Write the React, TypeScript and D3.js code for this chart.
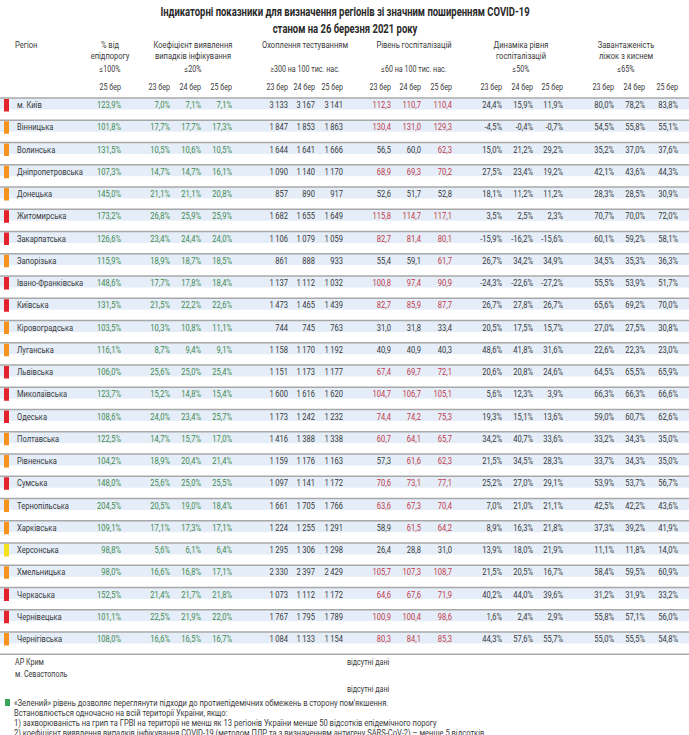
import React from "react";
import * as d3 from "d3";

const regions = ["м. Київ","Вінницька","Волинська","Дніпропетровська","Донецька","Житомирська","Закарпатська","Запорізька","Івано-Франківська","Київська","Кіровоградська","Луганська","Львівська","Миколаївська","Одеська","Полтавська","Рівненська","Сумська","Тернопільська","Харківська","Херсонська","Хмельницька","Черкаська","Чернівецька","Чернігівська"];
const status = ["red","orange","orange","orange","orange","red","red","orange","red","red","orange","orange","red","red","red","orange","orange","red","orange","orange","yellow","orange","red","red","orange"];
const epid25 = [123.9,101.8,131.5,107.3,145.0,173.2,126.6,115.9,148.6,131.5,103.5,116.1,106.0,123.7,108.6,122.5,104.2,148.0,204.5,109.1,98.8,98.0,152.5,101.1,108.0];
const coef23 = [7.0,17.7,10.5,14.7,21.1,26.8,23.4,18.9,17.7,21.5,10.3,8.7,25.6,15.2,24.0,14.7,18.9,25.6,20.5,17.1,5.6,16.6,21.4,22.5,16.6];
const coef24 = [7.1,17.7,10.6,14.7,21.1,25.9,24.4,18.7,17.8,22.2,10.8,9.4,25.0,14.8,23.4,15.7,20.4,25.0,19.0,17.3,6.1,16.8,21.7,21.9,16.5];
const coef25 = [7.1,17.3,10.5,16.1,20.8,25.9,24.0,18.5,18.4,22.6,11.1,9.1,25.4,15.4,25.7,17.0,21.4,25.5,18.4,17.1,6.4,17.1,21.8,22.0,16.7];
const test23 = [3133,1847,1644,1090,857,1682,1106,861,1137,1473,744,1158,1151,1600,1173,1416,1159,1097,1661,1224,1295,2330,1073,1767,1084];
const test24 = [3167,1853,1641,1140,890,1655,1079,888,1112,1465,745,1170,1173,1616,1242,1388,1176,1141,1705,1255,1306,2397,1112,1795,1133];
const test25 = [3141,1863,1666,1170,917,1649,1059,933,1032,1439,763,1192,1177,1620,1232,1338,1163,1172,1766,1291,1298,2429,1172,1789,1154];
const hosp23 = [112.3,130.4,56.5,68.9,52.6,115.8,82.7,55.4,100.8,82.7,31.0,40.9,67.4,104.7,74.4,60.7,57.3,70.6,63.6,58.9,26.4,105.7,64.6,100.9,80.3];
const hosp24 = [110.7,131.0,60.0,69.3,51.7,114.7,81.4,59.1,97.4,85.9,31.8,40.9,69.7,106.7,74.2,64.1,61.6,73.1,67.3,61.5,28.8,107.3,67.6,100.4,84.1];
const hosp25 = [110.4,129.3,62.3,70.2,52.8,117.1,80.1,61.7,90.9,87.7,33.4,40.3,72.1,105.1,75.3,65.7,62.3,77.1,70.4,64.2,31.0,108.7,71.9,98.6,85.3];
const dyn23 = [24.4,-4.5,15.0,27.5,18.1,3.5,-15.9,26.7,-24.3,26.7,20.5,48.6,20.6,5.6,19.3,34.2,21.5,25.2,7.0,8.9,13.9,21.5,40.2,1.6,44.3];
const dyn24 = [15.9,-0.4,21.2,23.4,11.2,2.5,-16.2,34.2,-22.6,27.8,17.5,41.8,20.8,12.3,15.1,40.7,34.5,27.0,21.0,16.3,18.0,20.5,44.0,2.4,57.6];
const dyn25 = [11.9,-0.7,29.2,19.2,11.2,2.3,-15.6,34.9,-27.2,26.7,15.7,31.6,24.6,3.9,13.6,33.6,28.3,29.1,21.1,21.8,21.9,16.7,39.6,2.9,55.7];
const beds23 = [80.0,54.5,35.2,42.1,28.3,70.7,60.1,34.5,55.5,65.6,27.0,22.6,64.5,66.3,59.0,33.2,33.7,53.9,42.5,37.3,11.1,58.4,31.2,55.8,55.0];
const beds24 = [78.2,55.8,37.0,43.6,28.5,70.0,59.2,35.3,53.9,69.2,27.5,22.3,65.5,66.3,60.7,34.3,34.3,53.7,42.2,39.2,11.8,59.5,31.9,57.1,55.5];
const beds25 = [83.8,55.1,37.6,44.3,30.9,72.0,58.1,36.3,51.7,70.0,30.8,23.0,65.9,66.6,62.6,35.0,35.0,56.7,43.6,41.9,14.0,60.9,33.2,56.0,54.8];

const titleLines = ["Індикаторні показники для визначення регіонів зі значним поширенням COVID-19","станом на 26 березня 2021 року"];
const groupHeaders = [
  { lines: ["% від","епідпорогу"], limit: "≤100%", cx: 110 },
  { lines: ["Коефіцієнт виявлення","випадків інфікування"], limit: "≤20%", cx: 193 },
  { lines: ["Охоплення тестуванням"], limit: "≥300 на 100 тис. нас.", cx: 305 },
  { lines: ["Рівень госпіталізацій"], limit: "≤60 на 100 тис. нас.", cx: 414 },
  { lines: ["Динаміка рівня","госпіталізацій"], limit: "≤50%", cx: 521 },
  { lines: ["Завантаженість","ліжок з киснем"], limit: "≤65%", cx: 626 },
];
const dateLabels = ["23 бер","24 бер","25 бер"];
const missing = ["АР Крим","м. Севастополь"];
const notes = [
  "«Зелений» рівень дозволяє переглянути підходи до протиепідемічних обмежень в сторону пом'якшення.",
  "Встановлюється одночасно на всій території України, якщо:",
  "1) захворюваність на грип та ГРВІ на території не менш як 13 регіонів України менше 50 відсотків епідемічного порогу",
  "2) коефіцієнт виявлення випадків інфікування COVID-19 (методом ПЛР та з визначенням антигену SARS-CoV-2) – менше 5 відсотків",
];

const locale = d3.formatLocale({ decimal: ",", thousands: "\u2009", grouping: [3], currency: ["", ""] });
const fmt1 = locale.format(".1f");
const fmtInt = locale.format(",d");
const pct = (v: number) => fmt1(v).replace("−", "-") + "%";
const num1 = (v: number) => fmt1(v);

const FONT = "Roboto, sans-serif";
const GREEN = "#3f8a4f";
const RED = "#c23a4a";
const DARK = "#3a3a3a";
const statusColor: Record<string, string> = { red: "#e3222b", orange: "#f5931e", yellow: "#f4e01c" };
const SX = 0.84;

type TP = { x: number; y: number; anchor?: string; size: number; fill: string; weight?: string; sx?: number; children: React.ReactNode };
function T({ x, y, anchor = "start", size, fill, weight = "normal", sx = SX, children }: TP) {
  return (
    <text transform={`translate(${x},${y}) scale(${sx},1)`} textAnchor={anchor} fontSize={size} fill={fill} fontWeight={weight}>
      {children}
    </text>
  );
}

type Col = { key: string; values: number[]; right: number; f: (v: number) => string; color: (v: number) => string; date: string };
const columns: Col[] = [
  { key: "epid", values: epid25, right: 121, f: pct, color: () => GREEN, date: "25 бер" },
  { key: "c23", values: coef23, right: 170, f: pct, color: () => GREEN, date: dateLabels[0] },
  { key: "c24", values: coef24, right: 201, f: pct, color: () => GREEN, date: dateLabels[1] },
  { key: "c25", values: coef25, right: 232, f: pct, color: () => GREEN, date: dateLabels[2] },
  { key: "t23", values: test23, right: 288, f: fmtInt, color: () => DARK, date: dateLabels[0] },
  { key: "t24", values: test24, right: 315, f: fmtInt, color: () => DARK, date: dateLabels[1] },
  { key: "t25", values: test25, right: 343, f: fmtInt, color: () => DARK, date: dateLabels[2] },
  { key: "h23", values: hosp23, right: 391, f: num1, color: (v) => (v > 60 ? RED : DARK), date: dateLabels[0] },
  { key: "h24", values: hosp24, right: 421, f: num1, color: (v) => (v > 60 ? RED : DARK), date: dateLabels[1] },
  { key: "h25", values: hosp25, right: 452, f: num1, color: (v) => (v > 60 ? RED : DARK), date: dateLabels[2] },
  { key: "d23", values: dyn23, right: 502, f: pct, color: () => DARK, date: dateLabels[0] },
  { key: "d24", values: dyn24, right: 533, f: pct, color: () => DARK, date: dateLabels[1] },
  { key: "d25", values: dyn25, right: 563, f: pct, color: () => DARK, date: dateLabels[2] },
  { key: "b23", values: beds23, right: 614, f: pct, color: () => DARK, date: dateLabels[0] },
  { key: "b24", values: beds24, right: 645, f: pct, color: () => DARK, date: dateLabels[1] },
  { key: "b25", values: beds25, right: 678, f: pct, color: () => DARK, date: dateLabels[2] },
];

export default function App() {
  const W = 689, H = 735;
  const step = 22.25;
  const top = 98;
  const y = d3.scaleBand<string>().domain(regions).range([top, top + step * regions.length]).paddingInner(0).paddingOuter(0);
  const fs = 9;
  return (
    <svg width={W} height={H} style={{ position: "absolute", left: 0, top: 0, background: "#fff" }} fontFamily={FONT}>
      <rect width={W} height={H} fill="#fff" />
      {titleLines.map((t, i) => (
        <T key={t} x={345} y={16 + i * 17} anchor="middle" weight="bold" size={12} fill="#2a2a2a" sx={0.79}>{t}</T>
      ))}
      <T x={15} y={48} size={fs} fill={DARK}>Регіон</T>
      {groupHeaders.map((g) => (
        <g key={g.cx}>
          {g.lines.map((l, i) => (
            <T key={l} x={g.cx} y={48 + i * 11} anchor="middle" size={fs} fill={DARK}>{l}</T>
          ))}
          <T x={g.cx} y={72} anchor="middle" size={fs - 0.5} fill={DARK}>{g.limit}</T>
        </g>
      ))}
      {columns.map((c) => (
        <T key={c.key} x={c.right} y={90} anchor="end" size={fs - 0.5} fill={DARK}>{c.date}</T>
      ))}
      {regions.map((r, i) => {
        const y0 = y(r)!;
        return (
          <g key={r}>
            <rect x={0} y={y0} width={W} height={11.5} fill="#e5eef8" />
            <line x1={0} x2={W} y1={y0} y2={y0} stroke="#a8a8a8" strokeWidth={1.5} />
            <rect x={4} y={y0 + 1} width={5} height={12.5} fill={statusColor[status[i]]} />
            <T x={17} y={y0 + 10} size={fs} fill={DARK}>{r}</T>
            {columns.map((c) => (
              <T key={c.key} x={c.right} y={y0 + 10} anchor="end" size={fs} fill={c.color(c.values[i])}>{c.f(c.values[i])}</T>
            ))}
          </g>
        );
      })}
      <line x1={0} x2={W} y1={top + step * regions.length} y2={top + step * regions.length} stroke="#a8a8a8" strokeWidth={1.5} />
      <T x={15} y={665} size={fs - 0.5} fill={DARK}>{missing[0]}</T>
      <T x={15} y={677} size={fs - 0.5} fill={DARK}>{missing[1]}</T>
      <T x={347} y={665} size={fs - 0.5} fill={DARK}>відсутні дані</T>
      <T x={347} y={692} size={fs - 0.5} fill={DARK}>відсутні дані</T>
      <rect x={5} y={699} width={5} height={7} fill="#3aa45a" />
      {notes.map((n, i) => (
        <T key={i} x={14} y={706 + i * 10} size={8.6} fill={DARK} sx={0.88}>{n}</T>
      ))}
    </svg>
  );
}
